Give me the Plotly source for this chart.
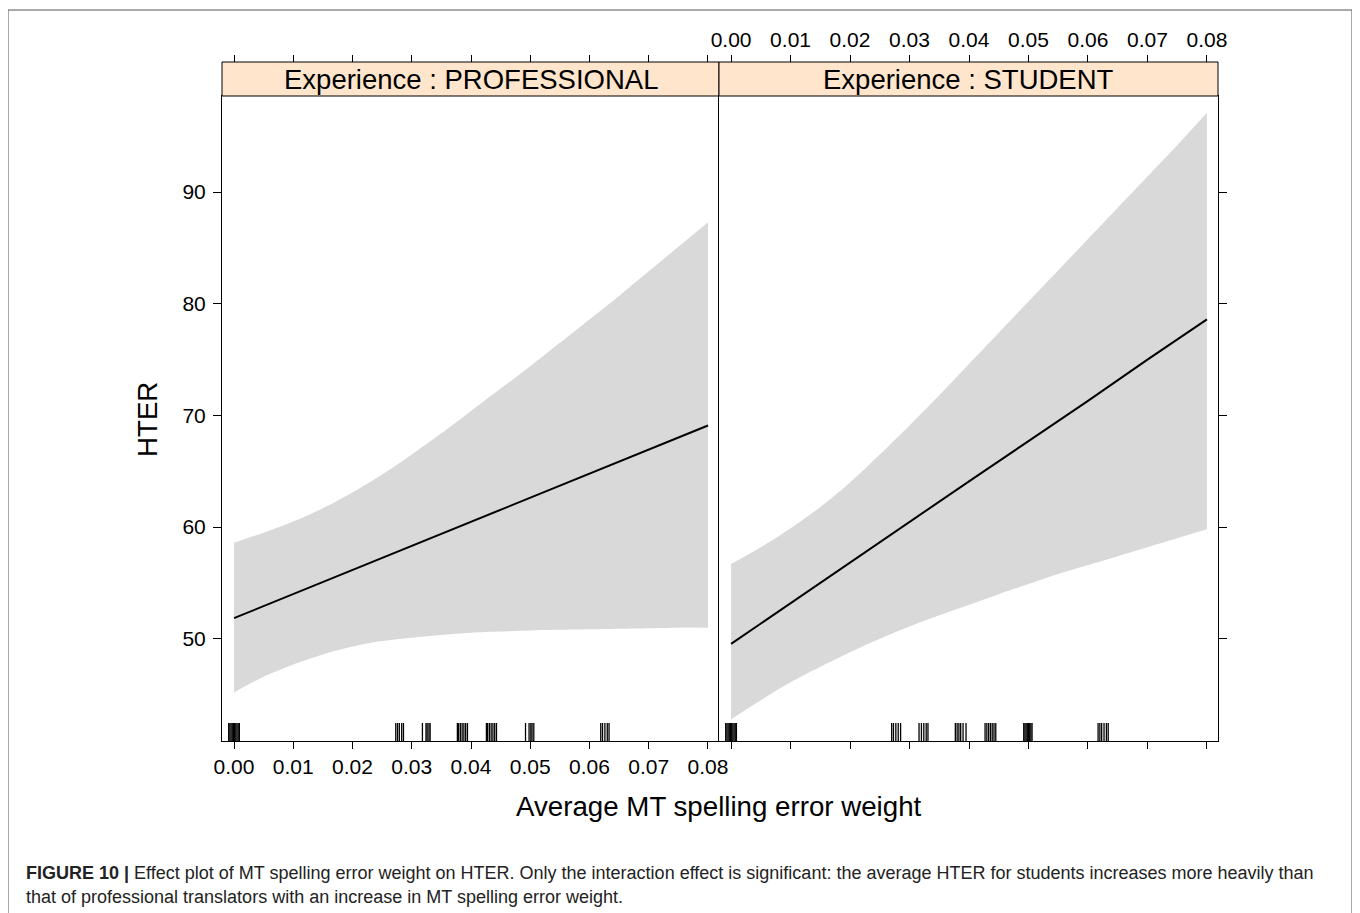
import plotly.graph_objects as go

# ---------------- data ----------------
panels = ["PROFESSIONAL", "STUDENT"]
strip_labels = ["Experience : PROFESSIONAL", "Experience : STUDENT"]

x_ticks = [0.00, 0.01, 0.02, 0.03, 0.04, 0.05, 0.06, 0.07, 0.08]
x_tick_text = ["0.00", "0.01", "0.02", "0.03", "0.04", "0.05", "0.06", "0.07", "0.08"]
y_ticks = [50, 60, 70, 80, 90]

# effect line (fit) read at 0.01 steps
fit_x = [0.00, 0.01, 0.02, 0.03, 0.04, 0.05, 0.06, 0.07, 0.08]
fit_prof = [51.85, 54.0, 56.2, 58.3, 60.5, 62.6, 64.8, 66.9, 69.1]
fit_stud = [49.55, 53.2, 56.8, 60.5, 64.1, 67.7, 71.3, 75.0, 78.6]

# confidence band read at 0.005 steps
band_x = [0.000, 0.005, 0.010, 0.015, 0.020, 0.025, 0.030, 0.035, 0.040,
          0.045, 0.050, 0.055, 0.060, 0.065, 0.070, 0.075, 0.080]
upper_prof = [58.6, 59.5, 60.5, 61.7, 63.1, 64.7, 66.5, 68.4, 70.4,
              72.4, 74.4, 76.5, 78.6, 80.7, 82.9, 85.1, 87.3]
lower_prof = [45.2, 46.6, 47.7, 48.6, 49.3, 49.8, 50.1, 50.35, 50.55,
              50.65, 50.75, 50.8, 50.85, 50.9, 50.95, 51.0, 51.0]
upper_stud = [56.7, 58.2, 59.9, 61.8, 64.0, 66.5, 69.1, 71.8, 74.6,
              77.4, 80.2, 83.0, 85.8, 88.6, 91.4, 94.2, 97.1]
lower_stud = [42.8, 44.5, 46.1, 47.5, 48.8, 50.0, 51.1, 52.1, 53.05,
              54.0, 54.9, 55.8, 56.6, 57.4, 58.2, 59.0, 59.8]

# rug (jittered observed predictor values)
rug_prof = [-0.0009, -0.0007, -0.0005, -0.0003, -0.0001, 0.0001, 0.0003, 0.0005, 0.0007, 0.0009,
            0.0273, 0.0276, 0.0279, 0.0283, 0.0286,
            0.0318, 0.0324, 0.0326, 0.0329, 0.0331,
            0.0377, 0.0379, 0.0382, 0.0385, 0.0388, 0.0391, 0.0394,
            0.0426, 0.0428, 0.0431, 0.0434, 0.0437, 0.0440, 0.0443,
            0.0492, 0.0498, 0.0501, 0.0503, 0.0506,
            0.0619, 0.0622, 0.0626, 0.0630, 0.0633]
rug_stud = [-0.0009, -0.0007, -0.0005, -0.0003, -0.0001, 0.0001, 0.0003, 0.0005, 0.0007, 0.0009,
            0.0270, 0.0273, 0.0277, 0.0281, 0.0285,
            0.0316, 0.0320, 0.0324, 0.0328, 0.0331,
            0.0377, 0.0380, 0.0383, 0.0386, 0.0390, 0.0395,
            0.0427, 0.0430, 0.0433, 0.0436, 0.0439, 0.0442, 0.0445,
            0.0492, 0.0494, 0.0496, 0.0498, 0.0500, 0.0502, 0.0504, 0.0506,
            0.0617, 0.0620, 0.0623, 0.0627, 0.0631, 0.0634]

x_title = "Average MT spelling error weight"
y_title = "HTER"
caption_1 = ("<b>FIGURE 10 |</b> Effect plot of MT spelling error weight on HTER. Only the interaction effect "
             "is significant: the average HTER for students increases more heavily than")
caption_2 = "that of professional translators with an increase in MT spelling error weight."

# ---------------- style ----------------
PAGE_OFF = 8                      # default body margin of the html page
W, H = 1360 - PAGE_OFF, 913 - PAGE_OFF
ML, MR, MT, MB = 222 - PAGE_OFF, 142, 62 - PAGE_OFF, 172
X_RANGE = [-0.00203, 0.08186]
Y_RANGE = [40.85, 98.6]
PANEL_TOP = (741 - 96) / (741 - 62)   # top of panels in paper coords (strip above)
SPLIT = (719 - 222) / (1218 - 222)
FONT = "Arial, Liberation Sans, Helvetica, sans-serif"
BAND = "#D9D9D9"
STRIP = "#FFE5CC"
RUG_H = 18 / 645 * (Y_RANGE[1] - Y_RANGE[0])

fig = go.Figure()

sets = [
    ("x", "y", fit_prof, upper_prof, lower_prof, rug_prof),
    ("x2", "y2", fit_stud, upper_stud, lower_stud, rug_stud),
]
for xa, ya, fit, up, lo, rug in sets:
    fig.add_trace(go.Scatter(
        x=band_x, y=lo, mode="lines", line=dict(width=0, color=BAND, shape="spline", smoothing=0.8),
        hoverinfo="skip", showlegend=False, xaxis=xa, yaxis=ya))
    fig.add_trace(go.Scatter(
        x=band_x, y=up, mode="lines", fill="tonexty", fillcolor=BAND,
        line=dict(width=0, color=BAND, shape="spline", smoothing=0.8),
        hoverinfo="skip", showlegend=False, xaxis=xa, yaxis=ya))
    fig.add_trace(go.Scatter(
        x=fit_x, y=fit, mode="lines", line=dict(color="black", width=2),
        showlegend=False, xaxis=xa, yaxis=ya))
    rx, ry = [], []
    for v in rug:
        rx += [v, v, None]
        ry += [Y_RANGE[0], Y_RANGE[0] + RUG_H, None]
    fig.add_trace(go.Scatter(
        x=rx, y=ry, mode="lines", line=dict(color="black", width=1.3),
        showlegend=False, hoverinfo="skip", xaxis=xa, yaxis=ya))

# empty traces to register the top axes
fig.add_trace(go.Scatter(x=[None], y=[None], xaxis="x3", yaxis="y", showlegend=False))
fig.add_trace(go.Scatter(x=[None], y=[None], xaxis="x4", yaxis="y2", showlegend=False))

tickfont = dict(family=FONT, size=21, color="black")
common_x = dict(range=X_RANGE, tickvals=x_ticks, ticktext=x_tick_text, ticks="outside",
                ticklen=7, tickwidth=1, tickcolor="black", showgrid=False, zeroline=False,
                tickfont=tickfont)
fig.update_layout(
    width=W, height=H, margin=dict(l=ML, r=MR, t=MT, b=MB),
    paper_bgcolor="white", plot_bgcolor="white",
    xaxis=dict(domain=[0, SPLIT], anchor="y", showline=True, linecolor="black", mirror=True,
               ticklabelstandoff=0, **common_x),
    xaxis2=dict(domain=[SPLIT, 1], anchor="y2", showline=True, linecolor="black", mirror=True,
                showticklabels=False, **common_x),
    xaxis3=dict(overlaying="x", side="top", anchor="free", position=1, showline=False,
                showticklabels=False, **common_x),
    xaxis4=dict(overlaying="x2", side="top", anchor="free", position=1, showline=False,
                showticklabels=True, ticklabelstandoff=0, **common_x),
    yaxis=dict(domain=[0, PANEL_TOP], anchor="x", range=Y_RANGE, tickvals=y_ticks,
               ticks="outside", ticklen=8, tickcolor="black", showline=True, linecolor="black",
               mirror=False, showgrid=False, zeroline=False, tickfont=tickfont,
               ticklabelstandoff=3),
    yaxis2=dict(domain=[0, PANEL_TOP], anchor="x2", matches="y", range=Y_RANGE, side="right",
                tickvals=y_ticks, ticks="outside", ticklen=8, tickcolor="black",
                showline=True, linecolor="black", mirror=True, showgrid=False,
                zeroline=False, showticklabels=False),
)

# strips
for i, lab in enumerate(strip_labels):
    x0, x1 = (0, SPLIT) if i == 0 else (SPLIT, 1)
    fig.add_shape(type="rect", xref="paper", yref="paper", x0=x0, x1=x1, y0=PANEL_TOP, y1=1,
                  fillcolor=STRIP, line=dict(color="black", width=1), layer="above")
    fig.add_annotation(xref="paper", yref="paper", x=(x0 + x1) / 2, y=(PANEL_TOP + 1) / 2,
                       text=lab, showarrow=False, xanchor="center", yanchor="middle",
                       font=dict(family=FONT, size=27.5, color="black"))

pw, ph = W - ML - MR, H - MT - MB
def px(xp):
    return (xp - PAGE_OFF - ML) / pw
def py(yp):
    return (H - MB - (yp - PAGE_OFF)) / ph

# axis titles
fig.add_annotation(xref="paper", yref="paper", x=px(719), y=py(806), text=x_title,
                   showarrow=False, xanchor="center", yanchor="middle",
                   font=dict(family=FONT, size=27.7, color="black"))
fig.add_annotation(xref="paper", yref="paper", x=px(147), y=py(420), text=y_title,
                   showarrow=False, textangle=-90, xanchor="center", yanchor="middle",
                   font=dict(family=FONT, size=27.7, color="black"))

# caption
cap_font = dict(family=FONT, size=18, color="#222222")
fig.add_annotation(xref="paper", yref="paper", x=px(24), y=py(873), text=caption_1,
                   showarrow=False, xanchor="left", yanchor="middle", font=cap_font)
fig.add_annotation(xref="paper", yref="paper", x=px(24), y=py(897), text=caption_2,
                   showarrow=False, xanchor="left", yanchor="middle", font=cap_font)

# outer frame
fig.add_shape(type="rect", xref="paper", yref="paper", x0=px(8), x1=px(1352), y0=py(925),
              y1=py(10), line=dict(color="#555555", width=1), fillcolor="rgba(0,0,0,0)")

fig.write_html("out.html")
